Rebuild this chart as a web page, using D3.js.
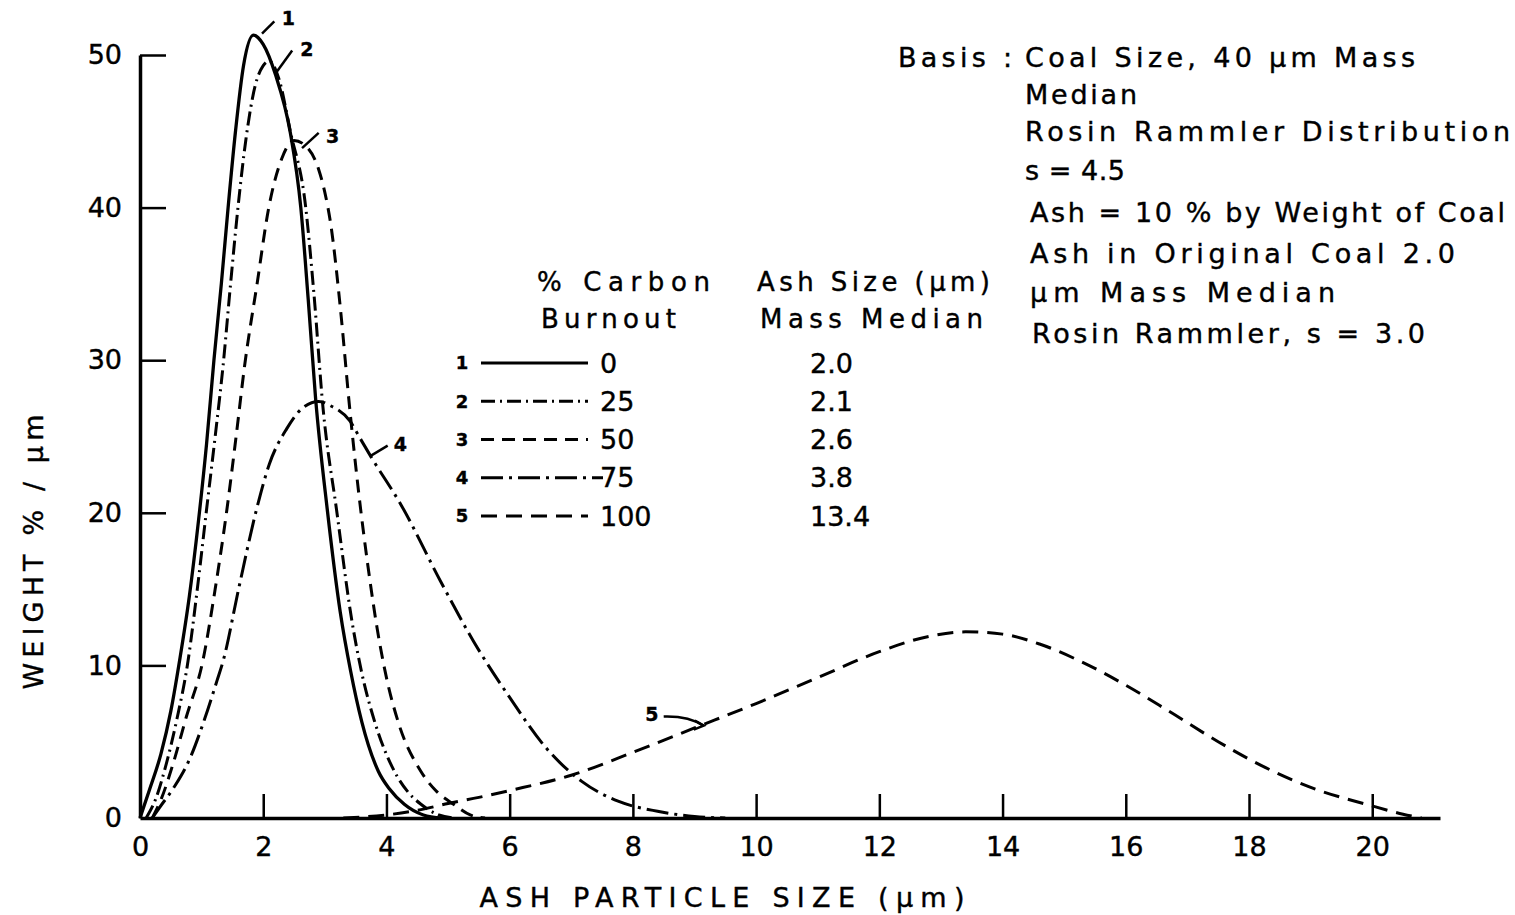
<!DOCTYPE html>
<html>
<head>
<meta charset="utf-8">
<script src="https://cdn.jsdelivr.net/npm/d3@7"></script>
<style>
  body { margin: 0; background: #fff; }
  svg { display: block; }
  text { font-family: "DejaVu Sans", sans-serif; fill: #000; stroke: #000; stroke-width: 0.4px; }
  .axis path, .axis line { stroke: #000; }
  .axis text { font-size: 27px; font-family: "DejaVu Sans", sans-serif; }
</style>
</head>
<body>
<svg width="1515" height="915"></svg>
<script>
// values (x in um, y in weight % / um)
var burnout = [0, 25, 50, 75, 100];
var ashMedian = ["2.0", "2.1", "2.6", "3.8", "13.4"];

var curve1 = [[0,0],[0.15,1.8],[0.34,4.2],[0.5,7],[0.65,10.5],[0.8,14.5],[0.95,19.5],[1.08,24.5],[1.2,30],[1.32,35],[1.43,40],[1.55,45],[1.68,49.3],[1.84,51.3],[2.0,50.7],[2.2,48.7],[2.44,44.9],[2.61,40],[2.73,34],[2.85,27.5],[3.04,20.2],[3.25,13.5],[3.42,9.6],[3.6,6.3],[3.87,3.05],[4.05,1.9],[4.29,0.9],[4.6,0.2],[4.9,0]];
var curve2 = [[0.1,0],[0.25,1.2],[0.43,3.6],[0.6,6.5],[0.78,10.3],[0.93,15],[1.08,20.2],[1.22,25],[1.35,29.7],[1.47,35],[1.59,40],[1.72,44.5],[1.87,48],[2.0,49.3],[2.1,49.6],[2.25,48.5],[2.44,45],[2.69,40],[2.82,34.5],[2.97,26.9],[3.19,20.2],[3.44,12.9],[3.6,9.5],[3.81,6.3],[4.13,3.05],[4.35,1.7],[4.56,0.9],[4.85,0.2],[5.1,0]];
var curve3 = [[0.2,0],[0.35,1.3],[0.54,3.6],[0.75,6.6],[1.02,10.3],[1.22,15],[1.41,20.2],[1.56,25],[1.7,29.7],[1.9,35],[2.09,40],[2.3,43.2],[2.5,44.4],[2.7,44],[2.9,42.5],[3.0,41],[3.1,38.8],[3.25,33.5],[3.4,27],[3.55,21.3],[3.7,16.5],[3.85,12.4],[4.0,9.2],[4.19,6.3],[4.56,3.05],[4.8,1.8],[5.09,0.9],[5.36,0.2],[5.6,0]];
var curve4 = [[0.2,0],[0.32,0.7],[0.55,2],[0.81,3.9],[1.05,6.5],[1.25,9],[1.35,10.3],[1.6,15],[1.89,20.2],[2.1,23.2],[2.38,25.5],[2.62,26.8],[2.9,27.3],[3.1,27],[3.41,26],[3.57,24.9],[3.76,23.6],[4.24,20.5],[4.88,15.5],[5.41,11.6],[6.0,7.9],[6.59,4.6],[7.17,2.4],[7.76,1.1],[8.4,0.44],[9.0,0.1],[9.5,0]];
var curve5 = [[3.3,0],[4.0,0.2],[4.5,0.5],[5.0,0.95],[5.5,1.35],[6.0,1.8],[7.0,2.8],[8.0,4.3],[9.0,5.9],[10.0,7.5],[11.0,9.2],[12.0,10.9],[12.8,11.9],[13.4,12.2],[14.0,12.05],[14.6,11.4],[15.3,10.2],[16.0,8.7],[16.7,7.0],[17.5,5.0],[18.27,3.3],[19.1,1.86],[19.93,0.87],[20.5,0.25],[20.8,0]];

var xTicks = [0, 2, 4, 6, 8, 10, 12, 14, 16, 18, 20];
var yTicks = [0, 10, 20, 30, 40, 50];

var series = [curve1, curve2, curve3, curve4, curve5];
var dashes = ["none", "14,5,2,5", "13,8", "22,6,3,6", "16,9"];

var svg = d3.select("svg");

var x = d3.scaleLinear().domain([0, 21.1]).range([140, 1440]);
var y = d3.scaleLinear().domain([0, 50]).range([818, 55]);

// axes, ticks point inward like the original
var xAxis = d3.axisBottom(x).tickValues(xTicks).tickSize(-24).tickSizeOuter(0).tickPadding(19);
var yAxis = d3.axisLeft(y).tickValues(yTicks).tickSize(-26).tickSizeOuter(0).tickPadding(18);

var gx = svg.append("g").attr("class", "axis").attr("transform", "translate(0,818)").call(xAxis);
var gy = svg.append("g").attr("class", "axis").attr("transform", "translate(140,0)").call(yAxis);
gx.select(".domain").attr("stroke-width", 3.5);
gy.select(".domain").attr("stroke-width", 3.5);
gx.selectAll(".tick line").attr("stroke-width", 2.5);
gy.selectAll(".tick line").attr("stroke-width", 2.5);
gx.selectAll(".tick").filter(function(d) { return d === 0; }).select("line").remove();
gy.selectAll(".tick").filter(function(d) { return d === 0; }).select("line").remove();
gx.selectAll(".tick text").attr("font-size", 26);
gy.selectAll(".tick text").attr("font-size", 28);

svg.append("text")
  .attr("x", 722).attr("y", 907)
  .attr("text-anchor", "middle")
  .attr("font-size", 27)
  .attr("textLength", 485)
  .text("ASH PARTICLE SIZE (μm)");

svg.append("text")
  .attr("transform", "translate(43,552) rotate(-90)")
  .attr("text-anchor", "middle")
  .attr("font-size", 27)
  .attr("textLength", 275)
  .text("WEIGHT % / μm");

// curves
var line = d3.line()
  .x(function(d) { return x(d[0]); })
  .y(function(d) { return y(d[1]); })
  .curve(d3.curveMonotoneX);

svg.selectAll(".curve")
  .data(series)
  .enter().append("path")
  .attr("class", "curve")
  .attr("d", line)
  .attr("fill", "none")
  .attr("stroke", "#000")
  .attr("stroke-width", function(d, i) { return i === 0 ? 3.3 : 3; })
  .attr("stroke-dasharray", function(d, i) { return dashes[i]; });

// curve number tags with short leaders
var tags = [
  { n: "1", tx: 2.3, ty: 52.4, l: [[1.98, 51.4], [2.18, 52.2]] },
  { n: "2", tx: 2.6, ty: 50.4, l: [[2.22, 48.9], [2.47, 50.3]] },
  { n: "3", tx: 3.02, ty: 44.7, l: [[2.63, 43.9], [2.9, 44.9]] },
  { n: "4", tx: 4.12, ty: 24.5, l: [[3.73, 23.7], [4.02, 24.4]] }
];
tags.forEach(function(t) {
  svg.append("line")
    .attr("x1", x(t.l[0][0])).attr("y1", y(t.l[0][1]))
    .attr("x2", x(t.l[1][0])).attr("y2", y(t.l[1][1]))
    .attr("stroke", "#000").attr("stroke-width", 2.5);
  svg.append("text")
    .attr("x", x(t.tx)).attr("y", y(t.ty))
    .attr("dy", "0.35em")
    .attr("font-size", 19).attr("font-weight", "bold")
    .text(t.n);
});

// tag 5 with curved arrow
svg.append("text")
  .attr("x", x(8.2)).attr("y", y(6.8)).attr("dy", "0.35em")
  .attr("font-size", 19).attr("font-weight", "bold").text("5");
svg.append("path")
  .attr("d", "M" + x(8.5) + "," + y(6.65) + " Q" + x(8.9) + "," + y(6.7) + " " + x(9.15) + "," + y(6.05))
  .attr("fill", "none").attr("stroke", "#000").attr("stroke-width", 2.5);
svg.append("path")
  .attr("d", "M" + (x(9.15) - 9) + "," + (y(6.05) - 5) + " L" + x(9.15) + "," + y(6.05) + " L" + (x(9.15) - 10) + "," + (y(6.05) + 4))
  .attr("fill", "none").attr("stroke", "#000").attr("stroke-width", 2.5);

// legend table
var legend = svg.append("g");
legend.append("text").attr("x", 537).attr("y", 291).attr("font-size", 26).attr("textLength", 173).text("% Carbon");
legend.append("text").attr("x", 541).attr("y", 328).attr("font-size", 26).attr("textLength", 135).text("Burnout");
legend.append("text").attr("x", 757).attr("y", 291).attr("font-size", 26).attr("textLength", 233).text("Ash Size (μm)");
legend.append("text").attr("x", 760).attr("y", 328).attr("font-size", 26).attr("textLength", 223).text("Mass Median");

var rowY = d3.scalePoint().domain(burnout).range([363, 516]);

var rows = legend.selectAll(".row")
  .data(burnout)
  .enter().append("g")
  .attr("class", "row")
  .attr("transform", function(d) { return "translate(0," + rowY(d) + ")"; });

rows.append("text")
  .attr("x", 462).attr("dy", "0.35em")
  .attr("text-anchor", "middle")
  .attr("font-size", 18).attr("font-weight", "bold")
  .text(function(d, i) { return i + 1; });
rows.append("line")
  .attr("x1", 481).attr("x2", function(d, i) { return i === 3 ? 603 : 588; })
  .attr("stroke", "#000").attr("stroke-width", 3)
  .attr("stroke-dasharray", function(d, i) { return dashes[i]; });
rows.append("text")
  .attr("x", 600).attr("dy", "0.36em")
  .attr("font-size", 27)
  .text(function(d) { return d; });
rows.append("text")
  .attr("x", 810).attr("dy", "0.36em")
  .attr("font-size", 27)
  .text(function(d, i) { return ashMedian[i]; });

// basis note
var notes = [
  ["Coal Size, 40 μm Mass", 1025, 57, 390],
  ["Median", 1025, 94, 112],
  ["Rosin Rammler Distribution", 1025, 131, 485],
  ["s = 4.5", 1025, 170, 100],
  ["Ash = 10 % by Weight of Coal", 1030, 212, 475],
  ["Ash in Original Coal 2.0", 1030, 253, 425],
  ["μm Mass Median", 1030, 292, 305],
  ["Rosin Rammler, s = 3.0", 1032, 333, 393]
];
svg.append("text").attr("x", 898).attr("y", 57).attr("dy", "0.36em")
  .attr("font-size", 27).attr("textLength", 114).text("Basis :");
svg.selectAll(".note")
  .data(notes)
  .enter().append("text")
  .attr("class", "note")
  .attr("x", function(d) { return d[1]; })
  .attr("y", function(d) { return d[2]; })
  .attr("dy", "0.36em")
  .attr("font-size", 27)
  .attr("textLength", function(d) { return d[3]; })
  .text(function(d) { return d[0]; });
</script>
</body>
</html>
